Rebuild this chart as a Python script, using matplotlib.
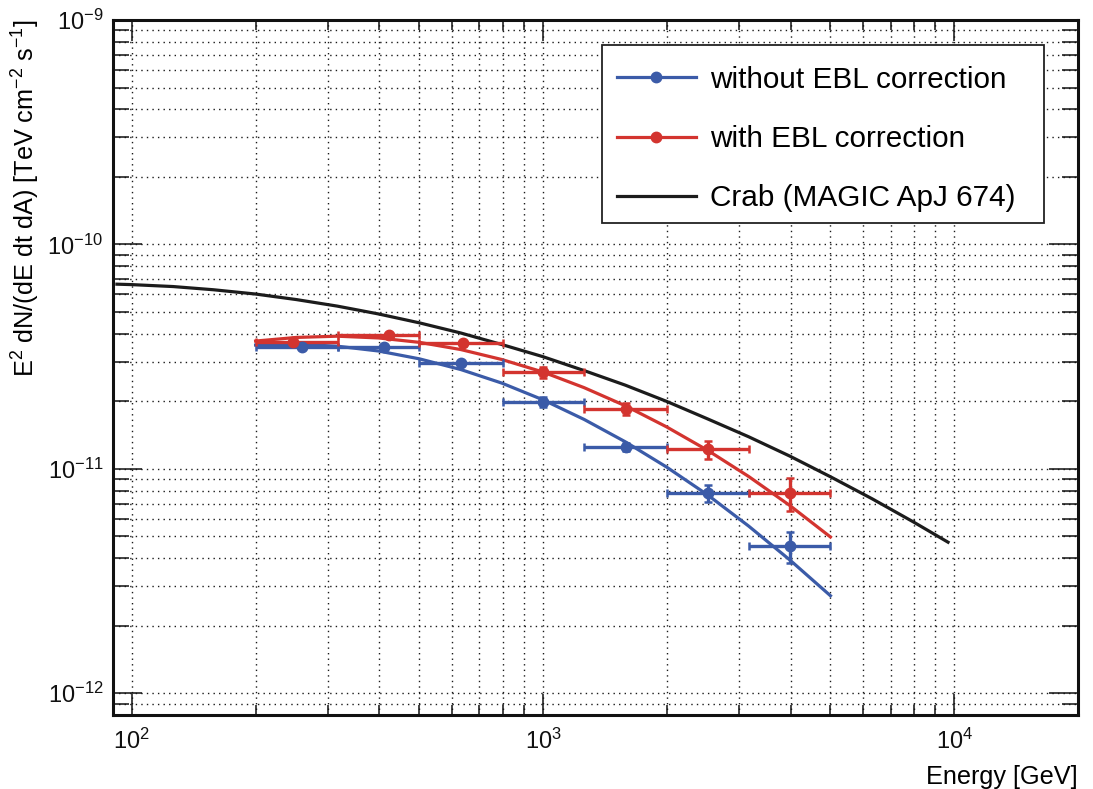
import matplotlib
matplotlib.use('Agg')
import matplotlib.pyplot as plt
from matplotlib.lines import Line2D
from matplotlib.patches import Rectangle
from matplotlib.ticker import LogLocator, NullFormatter

plt.rcParams['font.family'] = ['Liberation Sans', 'DejaVu Sans']
plt.rcParams['mathtext.fontset'] = 'custom'
plt.rcParams['mathtext.rm'] = 'Liberation Sans'
plt.rcParams['mathtext.it'] = 'Liberation Sans:italic'
plt.rcParams['mathtext.default'] = 'regular'

# ---------------- data ----------------
bin_edges = [200, 317, 500, 800, 1260, 2000, 3170, 5000]

blue_E = [259, 410, 633, 1000, 1590, 2520, 3980]
blue_F = [3.48e-11, 3.48e-11, 2.96e-11, 1.98e-11, 1.25e-11, 7.78e-12, 4.52e-12]
blue_err = [0.6e-12, 0.6e-12, 0.6e-12, 1.0e-12, 0.5e-12, 0.7e-12, 0.7e-12]

red_E = [247, 422, 640, 1000, 1590, 2520, 3980]
red_F = [3.66e-11, 3.94e-11, 3.63e-11, 2.70e-11, 1.85e-11, 1.22e-11, 7.78e-12]
red_err = [0.7e-12, 0.8e-12, 1.0e-12, 1.5e-12, 1.1e-12, 1.1e-12, 1.3e-12]

fit_E = [200, 251, 316, 398, 501, 631, 794, 1000, 1259, 1585, 1995, 2512,
         3162, 3981, 5000]
blue_fit = [3.56e-11, 3.59e-11, 3.52e-11, 3.35e-11, 3.09e-11, 2.77e-11,
            2.41e-11, 2.03e-11, 1.66e-11, 1.32e-11, 1.02e-11, 7.66e-12,
            5.56e-12, 3.93e-12, 2.72e-12]
red_fit = [3.71e-11, 3.85e-11, 3.90e-11, 3.83e-11, 3.66e-11, 3.40e-11,
           3.07e-11, 2.70e-11, 2.30e-11, 1.91e-11, 1.54e-11, 1.21e-11,
           9.25e-12, 6.87e-12, 4.97e-12]

crab_E = [92, 100, 126, 158, 200, 251, 316, 398, 501, 631, 794, 1000, 1259,
          1585, 1995, 2512, 3162, 3981, 5012, 6310, 7943, 9660]
crab_F = [6.65e-11, 6.62e-11, 6.49e-11, 6.28e-11, 6.01e-11, 5.68e-11,
          5.31e-11, 4.90e-11, 4.47e-11, 4.03e-11, 3.58e-11, 3.16e-11,
          2.74e-11, 2.36e-11, 2.00e-11, 1.67e-11, 1.39e-11, 1.14e-11,
          9.20e-12, 7.36e-12, 5.81e-12, 4.71e-12]

labels = ['without EBL correction', 'with EBL correction',
          'Crab (MAGIC ApJ 674)']
xlabel = 'Energy [GeV]'
ylabel = r'E$^{2}$ dN/(dE dt dA) [TeV cm$^{-2}$ s$^{-1}$]'

BLUE = '#3b5ba8'
RED = '#d3342f'
BLACK = '#1c1c1c'

# ---------------- figure ----------------
W, H = 1093, 789
fig = plt.figure(figsize=(W / 100, H / 100), dpi=100)
ax = fig.add_axes([113 / W, 1 - 715 / H, (1078 - 113) / W, (715 - 20) / H])
ax.set_xscale('log')
ax.set_yscale('log')
ax.set_xlim(90, 20000)
ax.set_ylim(8e-13, 1e-9)


def xerrs(E):
    lo = [e - bin_edges[i] for i, e in enumerate(E)]
    hi = [bin_edges[i + 1] - e for i, e in enumerate(E)]
    return [lo, hi]


# curves
ax.plot(crab_E, crab_F, color=BLACK, lw=2.3, zorder=3)
ax.plot(fit_E, blue_fit, color=BLUE, lw=2.3, zorder=3)
ax.plot(fit_E, red_fit, color=RED, lw=2.3, zorder=3)

# data points
for E, F, err, c in [(blue_E, blue_F, blue_err, BLUE),
                     (red_E, red_F, red_err, RED)]:
    ax.errorbar(E, F, xerr=xerrs(E), yerr=err, fmt='o', color=c, ms=7.5,
                elinewidth=2.4, capsize=2.6, capthick=1.8, zorder=4)

# grid & ticks
ax.xaxis.set_major_locator(LogLocator(base=10))
ax.yaxis.set_major_locator(LogLocator(base=10))
ax.xaxis.set_minor_locator(LogLocator(base=10, subs=range(2, 10), numticks=20))
ax.yaxis.set_minor_locator(LogLocator(base=10, subs=range(2, 10), numticks=20))
ax.xaxis.set_minor_formatter(NullFormatter())
ax.yaxis.set_minor_formatter(NullFormatter())
ax.grid(which='both', linestyle=(0, (1, 3)), color='#1a1a1a', linewidth=1.0)
ax.set_axisbelow(True)

ax.tick_params(which='both', direction='in', top=True, right=True,
               width=1.1, colors='#111111', labelsize=17)
ax.tick_params(axis='x', which='major', length=15, pad=10)
ax.tick_params(axis='x', which='minor', length=7)
ax.tick_params(axis='y', which='major', length=21, pad=7)
ax.tick_params(axis='y', which='minor', length=11.5)
for s in ax.spines.values():
    s.set_linewidth(2.2)
    s.set_color('#111111')
ax.xaxis.label.set_visible(False)
ax.yaxis.label.set_visible(False)
ax.xaxis.offsetText.set_visible(False)
ax.yaxis.offsetText.set_visible(False)

# axis titles
fig.text(1078 / W, 1 - 777 / H, xlabel, ha='right', va='center', fontsize=18.2)
fig.text(26 / W, 1 - 19 / H, ylabel, ha='center', va='top', rotation=90,
         fontsize=18.2)

# legend frame (drawn explicitly to match the reference box)
frame = Rectangle((602 / W, 1 - 223 / H), (1044 - 602) / W, (223 - 45) / H,
                  transform=fig.transFigure, facecolor='white',
                  edgecolor='#222222', lw=1.3, zorder=9, clip_on=False)
ax.add_patch(frame)

handles = [Line2D([], [], color=BLUE, lw=2.3, marker='o', ms=7.5),
           Line2D([], [], color=RED, lw=2.3, marker='o', ms=7.5),
           Line2D([], [], color=BLACK, lw=2.3)]
leg = ax.legend(handles, labels, loc='upper left',
                bbox_to_anchor=(596 / W, 1 - 45 / H),
                bbox_transform=fig.transFigure,
                fontsize=21.4, frameon=False, borderpad=0.7,
                handlelength=2.65, handletextpad=0.5, labelspacing=1.05,
                borderaxespad=0)
leg.set_zorder(10)

fig.savefig('out.png', dpi=100)
